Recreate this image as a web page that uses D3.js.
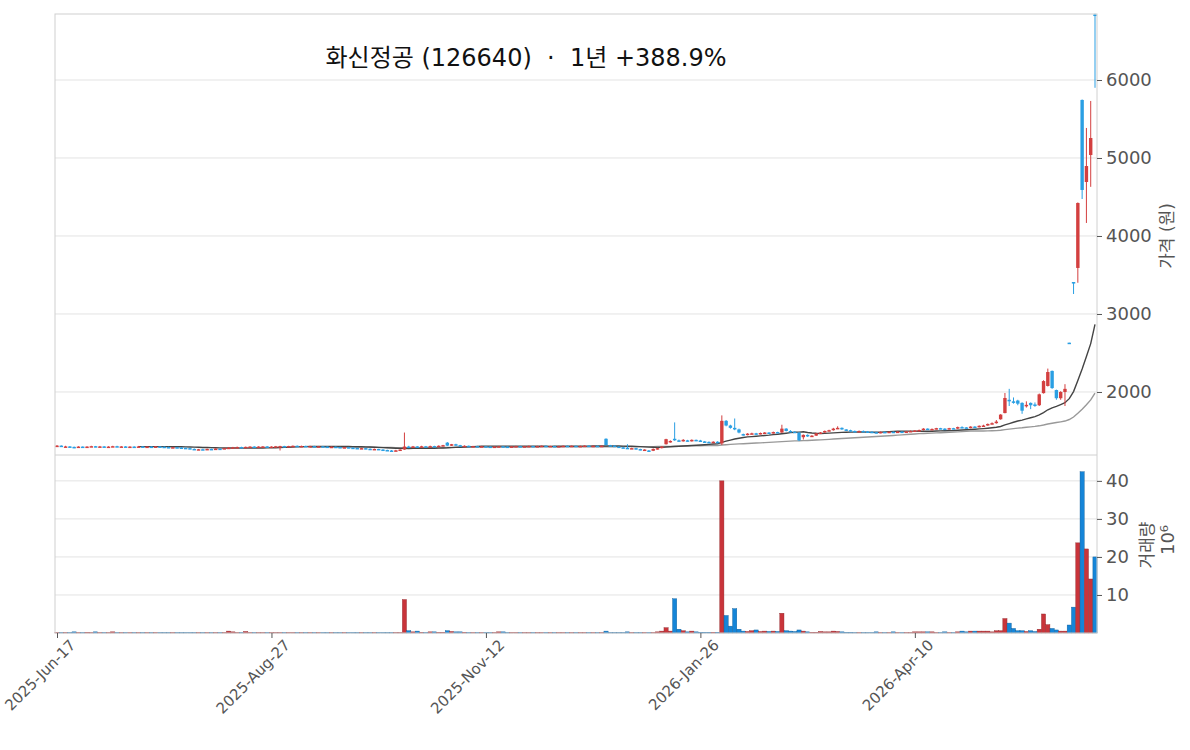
<!DOCTYPE html>
<html><head><meta charset="utf-8">
<script src="https://cdn.jsdelivr.net/npm/d3@7"></script>
<style>
body { margin: 0; background: #fff; }
text { font-family: "DejaVu Sans", "Noto Sans CJK KR", sans-serif; }
</style></head>
<body><svg id="chart" width="1190" height="750"></svg>
<script>
const tickLabels = [[0, '2025-Jun-17'], [50, '2025-Aug-27'], [100, '2025-Nov-12'], [150, '2026-Jan-26'], [200, '2026-Apr-10']];

const opens = [
  1310,1312,1300,1302,1296,1290,1300,1292,1300,1305, 1298,1302,1296,1300,1305,1300,1302,1296,1300,1298,
  1302,1298,1300,1296,1302,1298,1294,1290,1292,1288, 1284,1280,1270,1262,1266,1264,1270,1268,1274,1272,
  1280,1286,1290,1294,1292,1296,1300,1296,1300,1302, 1298,1300,1304,1306,1302,1306,1310,1306,1308,1304,
  1306,1302,1304,1300,1296,1298,1294,1290,1292,1286, 1282,1276,1280,1272,1266,1270,1262,1256,1250,1244,
  1252,1262,1300,1296,1302,1298,1304,1300,1306,1302, 1310,1350,1312,1330,1318,1306,1310,1302,1306,1300,
  1304,1300,1296,1300,1304,1300,1296,1302,1306,1302, 1304,1308,1304,1306,1310,1306,1308,1304,1306,1310,
  1306,1310,1306,1308,1312,1308,1310,1306,1400,1318, 1312,1300,1290,1284,1276,1280,1268,1258,1250,1246,
  1270,1280,1330,1360,1400,1380,1370,1380,1370,1386, 1378,1366,1360,1356,1362,1340,1630,1570,1540,1520,
  1460,1450,1466,1470,1460,1474,1480,1470,1486,1480, 1530,1500,1490,1480,1420,1450,1430,1440,1470,1480,
  1500,1510,1530,1540,1520,1510,1500,1490,1500,1494, 1490,1484,1476,1488,1480,1490,1486,1492,1488,1494,
  1500,1506,1512,1530,1520,1526,1536,1530,1526,1536, 1530,1550,1546,1540,1556,1550,1566,1570,1590,1600,
  1650,1730,1900,1880,1890,1860,1820,1860,1840,1830, 1985,2077,2270,2025,1920,2000,2632,3410,3590,5744,
  4692,5038,6840
];
const closes = [
  1312,1300,1302,1296,1290,1300,1292,1300,1305,1298, 1302,1296,1300,1305,1300,1302,1296,1300,1298,1302,
  1298,1300,1296,1302,1298,1294,1290,1292,1288,1284, 1280,1270,1262,1266,1264,1270,1268,1274,1272,1280,
  1286,1290,1294,1292,1296,1300,1296,1300,1302,1298, 1300,1304,1306,1302,1306,1310,1306,1308,1304,1306,
  1302,1304,1300,1296,1298,1294,1290,1292,1286,1282, 1276,1280,1272,1266,1270,1262,1256,1250,1244,1252,
  1262,1300,1296,1302,1298,1304,1300,1306,1302,1310, 1318,1312,1330,1318,1306,1310,1302,1306,1300,1304,
  1300,1296,1300,1304,1300,1296,1302,1306,1302,1304, 1308,1304,1306,1310,1306,1308,1304,1306,1310,1306,
  1310,1306,1308,1312,1308,1310,1306,1310,1320,1312, 1300,1290,1284,1276,1280,1268,1258,1262,1246,1270,
  1280,1300,1395,1372,1380,1370,1386,1370,1386,1378, 1366,1360,1356,1362,1350,1630,1570,1540,1520,1480,
  1450,1466,1470,1460,1474,1480,1470,1486,1480,1530, 1500,1490,1480,1380,1450,1430,1440,1470,1480,1500,
  1510,1530,1540,1520,1510,1500,1490,1500,1494,1490, 1484,1476,1488,1480,1490,1486,1492,1488,1494,1500,
  1506,1512,1530,1520,1526,1536,1530,1526,1536,1530, 1550,1546,1540,1556,1550,1566,1570,1590,1600,1620,
  1710,1923,1880,1860,1850,1760,1835,1830,1830,1970, 2140,2256,2050,1920,2000,2040,2628,3390,4423,4590,
  4897,5256,6820
];
const highs = [
  1320,1316,1310,1306,1300,1304,1302,1304,1310,1308, 1308,1306,1304,1310,1310,1306,1306,1304,1304,1308,
  1306,1304,1304,1306,1304,1302,1298,1296,1296,1292, 1288,1284,1276,1270,1272,1274,1274,1278,1278,1284,
  1292,1296,1300,1298,1300,1304,1304,1304,1306,1306, 1304,1308,1310,1310,1310,1314,1314,1312,1312,1310,
  1310,1308,1308,1304,1302,1302,1298,1296,1296,1290, 1286,1284,1284,1276,1274,1272,1266,1260,1256,1258,
  1266,1480,1310,1308,1306,1310,1308,1312,1310,1316, 1322,1358,1334,1336,1322,1316,1314,1310,1310,1308,
  1308,1304,1304,1308,1308,1304,1306,1310,1310,1308, 1312,1310,1310,1314,1314,1312,1310,1310,1314,1314,
  1314,1312,1312,1316,1316,1314,1314,1316,1406,1322, 1316,1304,1296,1330,1286,1282,1272,1266,1256,1276,
  1284,1306,1400,1380,1610,1390,1396,1386,1392,1390, 1386,1372,1366,1368,1368,1700,1640,1580,1660,1530,
  1466,1472,1478,1476,1480,1486,1486,1492,1490,1580, 1536,1510,1496,1484,1456,1456,1446,1476,1486,1506,
  1516,1540,1560,1546,1524,1516,1506,1506,1506,1500, 1496,1490,1494,1494,1496,1494,1498,1498,1500,1506,
  1510,1518,1536,1534,1532,1540,1540,1536,1540,1540, 1556,1560,1550,1560,1562,1572,1580,1596,1610,1640,
  1716,1987,2040,1930,1900,1868,1880,1866,1866,1980, 2150,2300,2275,2030,2010,2100,2632,3410,4430,5750,
  5385,5731,6850
];
const lows = [
  1302,1296,1290,1284,1280,1286,1284,1288,1296,1292, 1292,1290,1292,1296,1294,1294,1290,1290,1292,1292,
  1292,1292,1290,1292,1290,1288,1284,1284,1280,1278, 1276,1266,1256,1256,1258,1260,1262,1264,1266,1268,
  1276,1282,1286,1288,1288,1292,1292,1292,1296,1294, 1294,1296,1250,1298,1298,1302,1300,1302,1300,1300,
  1298,1298,1296,1290,1292,1290,1284,1286,1280,1276, 1270,1272,1266,1260,1262,1256,1250,1244,1236,1240,
  1246,1258,1288,1290,1292,1292,1294,1294,1296,1298, 1306,1306,1308,1312,1300,1300,1296,1298,1294,1296,
  1296,1290,1292,1298,1294,1290,1292,1298,1298,1298, 1300,1300,1300,1302,1302,1302,1300,1300,1302,1302,
  1302,1302,1302,1304,1304,1304,1302,1302,1314,1306, 1296,1286,1278,1270,1272,1262,1252,1250,1236,1242,
  1262,1276,1326,1350,1374,1362,1364,1366,1364,1370, 1360,1352,1350,1350,1340,1320,1560,1530,1510,1470,
  1440,1444,1460,1452,1456,1468,1464,1466,1474,1476, 1494,1484,1476,1370,1390,1424,1424,1436,1474,1476,
  1494,1504,1524,1514,1500,1494,1484,1484,1488,1480, 1478,1470,1470,1474,1476,1480,1480,1482,1484,1488,
  1494,1500,1506,1514,1516,1520,1524,1520,1520,1526, 1524,1540,1534,1534,1544,1546,1560,1566,1584,1594,
  1644,1726,1820,1850,1830,1720,1800,1780,1810,1820, 1980,2070,2040,1900,1900,1820,2628,3256,3400,4474,
  4167,4630,5900
];
// 백만 주
const volumes = [
  0.1,0.1,0.1,0.1,0.3,0.1,0.1,0.2,0.1,0.3, 0.1,0.1,0.1,0.3,0.1,0.1,0.1,0.1,0.1,0.1,
  0.1,0.1,0.1,0.1,0.1,0.1,0.1,0.1,0.1,0.1, 0.1,0.1,0.1,0.1,0.1,0.1,0.1,0.1,0.1,0.1,
  0.5,0.3,0.1,0.1,0.4,0.1,0.1,0.1,0.1,0.1, 0.1,0.1,0.1,0.1,0.1,0.1,0.1,0.1,0.1,0.1,
  0.1,0.1,0.1,0.1,0.1,0.1,0.1,0.1,0.1,0.1, 0.1,0.1,0.1,0.1,0.1,0.1,0.1,0.1,0.1,0.1,
  0.1,8.8,0.6,0.3,0.5,0.2,0.1,0.3,0.3,0.2, 0.2,0.6,0.4,0.3,0.3,0.2,0.1,0.1,0.1,0.1,
  0.1,0.1,0.1,0.3,0.3,0.1,0.1,0.1,0.1,0.1, 0.1,0.1,0.1,0.1,0.1,0.1,0.1,0.1,0.1,0.1,
  0.1,0.1,0.1,0.1,0.1,0.1,0.1,0.1,0.5,0.1, 0.1,0.1,0.1,0.3,0.1,0.1,0.1,0.1,0.1,0.1,
  0.3,0.5,1.4,0.5,9.0,1.0,0.6,0.3,0.5,0.3, 0.2,0.2,0.2,0.2,0.2,40,4.6,1.8,6.4,1.0,
  0.5,0.4,0.6,0.8,0.4,0.5,0.4,0.5,0.4,5.2, 0.6,0.5,0.4,0.8,0.5,0.3,0.2,0.2,0.4,0.3,
  0.3,0.5,0.4,0.3,0.2,0.2,0.1,0.1,0.1,0.1, 0.1,0.3,0.1,0.1,0.1,0.3,0.1,0.1,0.1,0.1,
  0.3,0.3,0.3,0.3,0.3,0.1,0.1,0.3,0.1,0.1, 0.3,0.5,0.3,0.5,0.5,0.5,0.5,0.5,0.3,0.6,
  0.6,3.8,2.6,1.2,0.6,0.6,0.4,0.6,0.4,1.0, 5.0,2.2,1.2,0.8,0.5,0.5,2.1,6.8,23.7,42.4,
  22.1,14.2,20.0
];

const UP = '#d33f3f', DOWN = '#2a9fe3', VUP = '#c9343a', VDOWN = '#1585d8';
const left = 55, right = 1097, pTop = 14, pBot = 455, vBot = 633;

const svg = d3.select('#chart');
const n = closes.length;
const x = d3.scaleLinear().domain([0, 242]).range([57, 1095]);
const y = d3.scaleLinear().domain([1192, 6846]).range([pBot, pTop]);
const yv = d3.scaleLinear().domain([0, 46.8]).range([vBot, pBot]);

function movingAvg(arr, w) {
    return arr.map((v, i) => i < w - 1 ? null : d3.mean(arr.slice(i - w + 1, i + 1)));
}

// grids
svg.append('g').selectAll('line').data([2000, 3000, 4000, 5000, 6000]).join('line')
    .attr('x1', left).attr('x2', right).attr('y1', d => y(d)).attr('y2', d => y(d))
    .attr('stroke', '#e3e3e3');
svg.append('g').selectAll('line').data([10, 20, 30, 40]).join('line')
    .attr('x1', left).attr('x2', right).attr('y1', d => yv(d)).attr('y2', d => yv(d))
    .attr('stroke', '#e3e3e3');

// MAs
const line = d3.line().defined(d => d[1] != null).x(d => x(d[0])).y(d => y(d[1]));
svg.append('path').datum(movingAvg(closes, 60).map((v, i) => [i, v]))
    .attr('d', line).attr('fill', 'none').attr('stroke', '#999').attr('stroke-width', 1.4);
svg.append('path').datum(movingAvg(closes, 20).map((v, i) => [i, v]))
    .attr('d', line).attr('fill', 'none').attr('stroke', '#444').attr('stroke-width', 1.4);

// candles
const idx = d3.range(n);
const cg = svg.append('g');
cg.selectAll('line').data(idx).join('line')
    .attr('x1', i => x(i)).attr('x2', i => x(i))
    .attr('y1', i => y(highs[i])).attr('y2', i => y(lows[i]))
    .attr('stroke', i => closes[i] >= opens[i] ? UP : DOWN).attr('stroke-width', 1);
cg.selectAll('rect').data(idx).join('rect')
    .attr('x', i => x(i) - 1.7).attr('width', 3.4)
    .attr('y', i => y(Math.max(opens[i], closes[i])))
    .attr('height', i => Math.max(1.5, Math.abs(y(opens[i]) - y(closes[i]))))
    .attr('fill', i => closes[i] >= opens[i] ? UP : DOWN);

// volume
svg.append('g').selectAll('rect').data(idx).join('rect')
    .attr('x', i => x(i) - 2.1).attr('width', 4.2)
    .attr('y', i => yv(volumes[i])).attr('height', i => vBot - yv(volumes[i]))
    .attr('fill', i => closes[i] >= opens[i] ? VUP : VDOWN)
    .attr('stroke', i => closes[i] >= opens[i] ? '#8e2a2e' : '#0f5c97').attr('stroke-width', 0.4);

// frames
svg.append('rect').attr('x', left).attr('y', pTop).attr('width', right - left).attr('height', vBot - pTop)
    .attr('fill', 'none').attr('stroke', '#d0d0d0');
svg.append('line').attr('x1', left).attr('x2', right).attr('y1', pBot).attr('y2', pBot).attr('stroke', '#d0d0d0');

// axes
const styleAxis = g => {
    g.select('.domain').remove();
    g.selectAll('.tick line').attr('stroke', '#555');
    g.selectAll('.tick text').attr('fill', '#555').style('font-size', '18px');
};
svg.append('g').attr('transform', `translate(${right},0)`)
    .call(d3.axisRight(y).tickValues([2000, 3000, 4000, 5000, 6000]).tickFormat(d3.format('d')).tickSize(5).tickPadding(4))
    .call(styleAxis);
svg.append('g').attr('transform', `translate(${right},0)`)
    .call(d3.axisRight(yv).tickValues([10, 20, 30, 40]).tickFormat(d3.format('d')).tickSize(5).tickPadding(4))
    .call(styleAxis);
const xa = svg.append('g').attr('transform', `translate(0,${vBot})`)
    .call(d3.axisBottom(x).tickValues(tickLabels.map(d => d[0]))
        .tickFormat(d => tickLabels.find(t => t[0] === d)[1]).tickSize(5))
    .call(styleAxis);
xa.selectAll('.tick text').attr('text-anchor', 'end')
    .attr('transform', 'translate(6,0) rotate(-45)').attr('dy', '0.7em').style('font-size', '15px');

// labels
svg.append('text').attr('transform', `translate(1173,236) rotate(-90)`)
    .attr('text-anchor', 'middle').attr('fill', '#555').style('font-size', '17px').text('가격 (원)');
svg.append('text').attr('transform', `translate(1153,545) rotate(-90)`)
    .attr('text-anchor', 'middle').attr('fill', '#555').style('font-size', '17px').text('거래량');
svg.append('text').attr('transform', `translate(1174,540) rotate(-90)`)
    .attr('text-anchor', 'middle').attr('fill', '#555').style('font-size', '18px').text('10⁶');
svg.append('text').attr('x', 526).attr('y', 66).attr('text-anchor', 'middle')
    .attr('fill', '#111').style('font-size', '24px').attr('xml:space', 'preserve')
    .text('화신정공 (126640)  ·  1년 +388.9%');
</script></body></html>
